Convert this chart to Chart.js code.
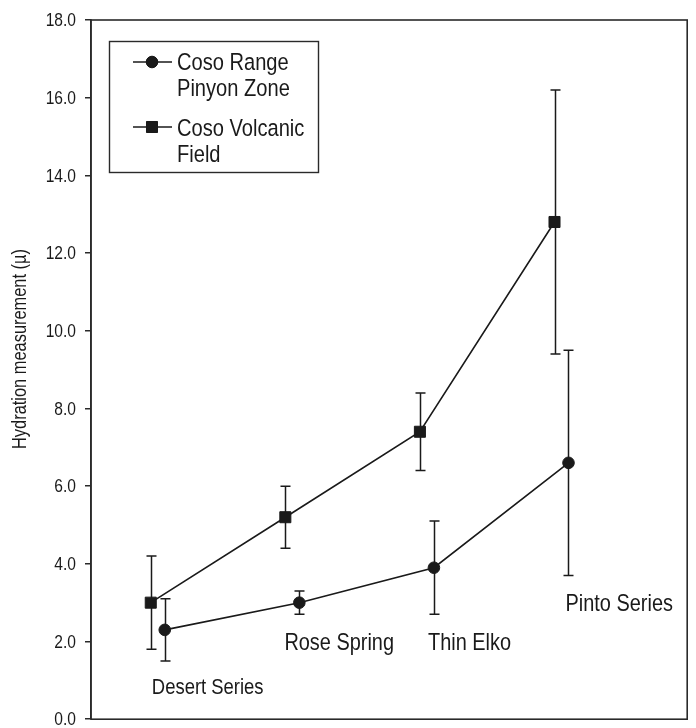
<!DOCTYPE html>
<html>
<head>
<meta charset="utf-8">
<script src="https://cdn.jsdelivr.net/npm/chart.js@4.4.1/dist/chart.umd.min.js"></script>
<style>
  html, body { margin: 0; padding: 0; background: #ffffff; }
  canvas { display: block; }
</style>
</head>
<body>
<canvas id="c" width="696" height="728"></canvas>
<script>
// ---- data ----
const categories = ['Desert Series', 'Rose Spring', 'Thin Elko', 'Pinto Series'];
const pinyonMean = [2.3, 3.0, 3.9, 6.6];
const pinyonLow  = [1.5, 2.7, 2.7, 3.7];
const pinyonHigh = [3.1, 3.3, 5.1, 9.5];
const volcanicMean = [3.0, 5.2, 7.4, 12.8];
const volcanicLow  = [1.8, 4.4, 6.4, 9.4];
const volcanicHigh = [4.2, 6.0, 8.4, 16.2];
const seriesNames = [['Coso Range', 'Pinyon Zone'], ['Coso Volcanic', 'Field']];
const yTickValues = [0, 2, 4, 6, 8, 10, 12, 14, 16, 18];
const yTitle = 'Hydration measurement (\u00B5)';

// ---- layout (not data) ----
const FONT = "'Liberation Sans', Arial, sans-serif";
const NARROW = 0.82;                      // horizontal squeeze to mimic a narrow face
const INK = '#1a1a1a';
const seriesOffset = 0.052;               // horizontal dodge of the two series
const labelAnchors = [                    // category text anchors (offset from category, value units)
  { dx: -0.044, y: 0.64, size: 22.5 },
  { dx: -0.059, y: 1.77, size: 24.3 },
  { dx: 0.008,  y: 1.79, size: 24.3 },
  { dx: 0.030,  y: 2.79, size: 24.3 }
];

const pinyonPts = categories.map((c, i) => ({ x: i + 1 + seriesOffset, y: pinyonMean[i] }));
const volcanicPts = categories.map((c, i) => ({ x: i + 1 - seriesOffset, y: volcanicMean[i] }));

const errorSets = [
  { offset: seriesOffset, low: pinyonLow, high: pinyonHigh },
  { offset: -seriesOffset, low: volcanicLow, high: volcanicHigh }
];

function narrowText(ctx, text, x, y, size, align, baseline, rot) {
  ctx.save();
  ctx.font = size + 'px ' + FONT;
  ctx.textAlign = align;
  ctx.textBaseline = baseline;
  ctx.translate(x, y);
  if (rot) ctx.rotate(rot);
  ctx.scale(NARROW, 1);
  ctx.fillText(text, 0, 0);
  ctx.restore();
}

const errorBars = {
  id: 'errorBars',
  beforeDatasetsDraw(chart) {
    const { ctx, scales: { x, y } } = chart;
    ctx.save();
    ctx.strokeStyle = INK;
    ctx.lineWidth = 1.5;
    errorSets.forEach(s => {
      categories.forEach((c, i) => {
        const px = Math.round(x.getPixelForValue(i + 1 + s.offset)) + 0.5;
        const pl = y.getPixelForValue(s.low[i]);
        const ph = y.getPixelForValue(s.high[i]);
        ctx.beginPath();
        ctx.moveTo(px, pl); ctx.lineTo(px, ph);
        ctx.moveTo(px - 5, pl); ctx.lineTo(px + 5, pl);
        ctx.moveTo(px - 5, ph); ctx.lineTo(px + 5, ph);
        ctx.stroke();
      });
    });
    ctx.restore();
  }
};

const decorations = {
  id: 'decorations',
  afterDraw(chart) {
    const { ctx, chartArea: a, scales: { x, y } } = chart;
    ctx.save();
    // frame
    ctx.strokeStyle = '#2a2a2a';
    ctx.lineWidth = 1.6;
    ctx.strokeRect(a.left, a.top, a.right - a.left, a.bottom - a.top);

    ctx.fillStyle = INK;
    // y tick labels (positions from the y scale)
    yTickValues.forEach(v => {
      narrowText(ctx, v.toFixed(1), 76, y.getPixelForValue(v) + 1, 19, 'right', 'middle');
    });

    // y title
    narrowText(ctx, yTitle, 20, 349, 20, 'center', 'middle', -Math.PI / 2);

    // category labels
    categories.forEach((c, i) => {
      const an = labelAnchors[i];
      narrowText(ctx, c, x.getPixelForValue(i + 1 + an.dx), y.getPixelForValue(an.y), an.size, 'left', 'alphabetic');
    });

    // legend
    const bx = 109, by = 41, bw = 209, bh = 131;
    ctx.lineWidth = 1.4;
    ctx.strokeStyle = '#2a2a2a';
    ctx.strokeRect(bx + 0.5, by + 0.5, bw, bh);
    const rows = [{ y: 62, style: 'circle', r: 5.8, base: [70, 96] },
                  { y: 127, style: 'rect', r: 7.8, base: [136, 162] }];
    rows.forEach((row, k) => {
      ctx.strokeStyle = INK;
      ctx.lineWidth = 1.6;
      ctx.beginPath();
      ctx.moveTo(133, row.y); ctx.lineTo(172, row.y);
      ctx.stroke();
      ctx.fillStyle = INK;
      ctx.lineWidth = 1;
      Chart.helpers.drawPoint(ctx, { pointStyle: row.style, radius: row.r, borderWidth: 1 }, 152, row.y);
      ctx.fill();
      narrowText(ctx, seriesNames[k][0], 177, row.base[0], 24.5, 'left', 'alphabetic');
      narrowText(ctx, seriesNames[k][1], 177, row.base[1], 24.5, 'left', 'alphabetic');
    });
    ctx.restore();
  }
};

new Chart(document.getElementById('c'), {
  type: 'line',
  data: {
    datasets: [
      {
        label: seriesNames[0].join(' '),
        data: pinyonPts,
        borderColor: INK, backgroundColor: INK,
        borderWidth: 1.6, pointStyle: 'circle', pointRadius: 5.8,
        pointBorderWidth: 1, tension: 0
      },
      {
        label: seriesNames[1].join(' '),
        data: volcanicPts,
        borderColor: INK, backgroundColor: INK,
        borderWidth: 1.6, pointStyle: 'rect', pointRadius: 7.8,
        pointBorderWidth: 1, tension: 0
      }
    ]
  },
  options: {
    responsive: false,
    animation: false,
    devicePixelRatio: 1,
    layout: { padding: { top: 20, right: 6, bottom: 6, left: 0 } },
    plugins: { legend: { display: false }, tooltip: { enabled: false } },
    scales: {
      x: { type: 'linear', min: 0.504, max: 4.934, display: false },
      y: {
        min: 0, max: 18,
        afterFit(s) { s.width = 91; s.paddingTop = 0; s.paddingBottom = 0; },
        afterBuildTicks(s) { s.ticks = yTickValues.map(v => ({ value: v })); },
        ticks: { display: false },
        grid: { drawOnChartArea: false, drawTicks: true, tickLength: 6, color: '#2a2a2a', lineWidth: 1.5 },
        border: { display: true, color: '#2a2a2a', width: 1.6 }
      }
    }
  },
  plugins: [errorBars, decorations]
});
</script>
</body>
</html>
